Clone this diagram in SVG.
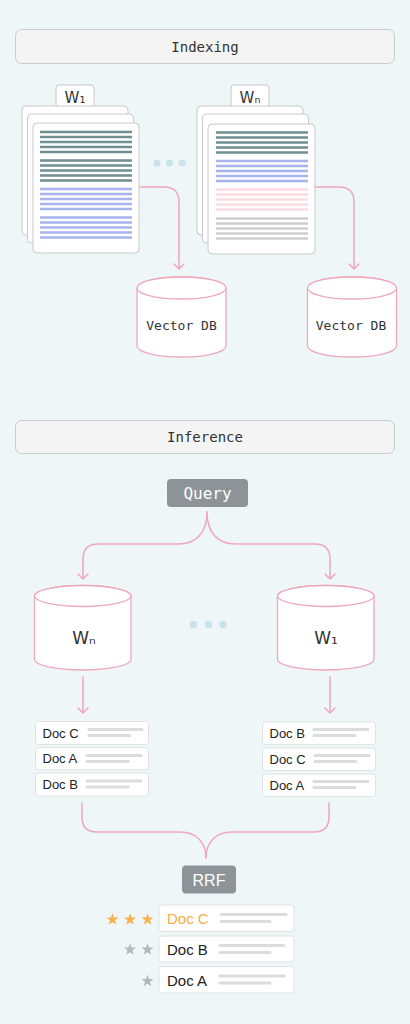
<svg xmlns="http://www.w3.org/2000/svg" width="410" height="1024" viewBox="0 0 410 1024">
<defs>
<style>
.hdr{fill:#f4f4f4;stroke:#c9cccd;stroke-width:1}
.mono{font-family:"DejaVu Sans Mono","Liberation Mono",monospace;fill:#333}
.sans{font-family:"Liberation Sans",Arial,sans-serif;fill:#222}
.wfont{font-family:"DejaVu Sans","Noto Sans",sans-serif;fill:#333}
.page{fill:#fff;stroke:#c6c9ca;stroke-width:1}
.tl{stroke:#6f8f90;stroke-width:2.4}
.bl{stroke:#a9b4ee;stroke-width:2.4}
.pl{stroke:#fbdce4;stroke-width:2.4}
.gl{stroke:#cfcfcf;stroke-width:2.4}
.cyl{fill:#fff;stroke:#eea8bb;stroke-width:1.3}
.con{fill:none;stroke:#eea8bb;stroke-width:1.5;stroke-linecap:round;stroke-linejoin:round}
.dot{fill:#c8e3ea}
.row{fill:#fff;stroke:#e0e2e3;stroke-width:1}
.dl{stroke:#dcdcdc;stroke-width:3;stroke-linecap:round}
.gbox{fill:#8e9397}
</style>
<polygon id="star" points="0,-6 1.47,-2.02 5.71,-1.85 2.38,0.77 3.53,4.85 0,2.5 -3.53,4.85 -2.38,0.77 -5.71,-1.85 -1.47,-2.02"/>
</defs>
<rect width="410" height="1024" fill="#eef6f8"/>

<g id="indexing-header">
<rect class="hdr" x="15.5" y="29.5" width="379" height="34" rx="6"/>
<text class="mono" x="205" y="51.5" font-size="14" text-anchor="middle">Indexing</text>
</g>

<g id="docs-w1">
<rect class="page" x="56" y="85" width="38" height="30" rx="3"/>
<text class="wfont" x="75" y="102.5" font-size="15" text-anchor="middle">W₁</text>
<rect class="page" x="22" y="106" width="106" height="129" rx="4"/>
<rect class="page" x="27.5" y="114" width="106" height="129" rx="4"/>
<rect class="page" x="33" y="123" width="106" height="130" rx="4"/>
<g>
<path class="tl" d="M40,132H132M40,137H132M40,142H132M40,147H132M40,152H132M40,160.5H132M40,165.5H132M40,170.5H132M40,175.5H132M40,180.5H132"/>
<path class="bl" d="M40,189H132M40,194H132M40,199H132M40,204H132M40,209H132M40,217.5H132M40,222.5H132M40,227.5H132M40,232.5H132M40,237.5H132"/>
</g>
</g>

<g id="dots-top">
<circle class="dot" cx="157" cy="163" r="3.5"/>
<circle class="dot" cx="169.5" cy="163" r="3.5"/>
<circle class="dot" cx="182" cy="163" r="3.5"/>
</g>

<g id="docs-wn">
<rect class="page" x="231" y="85" width="38" height="30" rx="3"/>
<text class="wfont" x="250" y="102.5" font-size="15" text-anchor="middle">Wₙ</text>
<rect class="page" x="197" y="106" width="106" height="129" rx="4"/>
<rect class="page" x="202.5" y="114" width="106" height="129" rx="4"/>
<rect class="page" x="208" y="124" width="107" height="130" rx="4"/>
<g>
<path class="tl" d="M216,132.5H308M216,137.5H308M216,142.5H308M216,147.5H308M216,152.5H308"/>
<path class="bl" d="M216,161H308M216,166H308M216,171H308M216,176H308M216,181H308"/>
<path class="pl" d="M216,189.5H308M216,194.5H308M216,199.5H308M216,204.5H308M216,209.5H308"/>
<path class="gl" d="M216,218.5H308M216,223.5H308M216,228.5H308M216,233.5H308M216,238.5H308"/>
</g>
</g>

<g id="vectordb-1">
<path class="cyl" d="M137,288V346A44.5,11 0 0 0 226,346V288A44.5,11 0 0 0 137,288Z"/>
<ellipse class="cyl" cx="181.5" cy="288" rx="44.5" ry="11"/>
<text class="mono" x="181.5" y="329.5" font-size="13" text-anchor="middle">Vector DB</text>
</g>

<g id="vectordb-n">
<path class="cyl" d="M307.5,288V346A44.5,11 0 0 0 396.5,346V288A44.5,11 0 0 0 307.5,288Z"/>
<ellipse class="cyl" cx="352" cy="288" rx="44.5" ry="11"/>
<text class="mono" x="351" y="329.5" font-size="13" text-anchor="middle">Vector DB</text>
</g>

<g id="inference-header">
<rect class="hdr" x="15.5" y="420.5" width="379" height="33" rx="6"/>
<text class="mono" x="205" y="442" font-size="14" text-anchor="middle">Inference</text>
</g>

<g id="query">
<rect class="gbox" x="167" y="479" width="81" height="28" rx="4"/>
<text class="mono" x="207.5" y="499" font-size="16" text-anchor="middle" style="fill:#fff">Query</text>
</g>

<g id="db-wn">
<path class="cyl" d="M34.5,596V659.5A48.25,10.5 0 0 0 131,659.5V596A48.25,10.5 0 0 0 34.5,596Z"/>
<ellipse class="cyl" cx="82.75" cy="596" rx="48.25" ry="10.5"/>
<text class="wfont" x="84" y="644" font-size="17" text-anchor="middle">Wₙ</text>
</g>

<g id="dots-mid">
<circle class="dot" cx="193.5" cy="624.5" r="3.7"/>
<circle class="dot" cx="208.5" cy="624.5" r="3.7"/>
<circle class="dot" cx="223" cy="624.5" r="3.7"/>
</g>

<g id="db-w1">
<path class="cyl" d="M277.5,596V659.5A48.25,10.5 0 0 0 374,659.5V596A48.25,10.5 0 0 0 277.5,596Z"/>
<ellipse class="cyl" cx="325.75" cy="596" rx="48.25" ry="10.5"/>
<text class="wfont" x="326" y="644" font-size="17" text-anchor="middle">W₁</text>
</g>

<g id="list-left">
<rect class="row" x="35.5" y="721.5" width="113" height="23" rx="3"/>
<text class="sans" x="42.5" y="737.5" font-size="13">Doc C</text>
<path class="dl" d="M89,729.5H142M89,735.5H130"/>
<rect class="row" x="35.5" y="747.5" width="113" height="22" rx="3"/>
<text class="sans" x="42.5" y="763" font-size="13">Doc A</text>
<path class="dl" d="M87,755.5H141M87,761.5H128.5"/>
<rect class="row" x="35.5" y="773" width="113" height="23" rx="3"/>
<text class="sans" x="42.5" y="789" font-size="13">Doc B</text>
<path class="dl" d="M87,781H141M87,787H128"/>
</g>

<g id="list-right">
<rect class="row" x="262.5" y="722" width="113" height="22.5" rx="3"/>
<text class="sans" x="269.5" y="738" font-size="13">Doc B</text>
<path class="dl" d="M314,729.5H368M314,735.5H355"/>
<rect class="row" x="262.5" y="748" width="113" height="22.5" rx="3"/>
<text class="sans" x="269.5" y="764" font-size="13">Doc C</text>
<path class="dl" d="M315,755.5H369M315,761.5H356"/>
<rect class="row" x="262.5" y="774" width="113" height="22.5" rx="3"/>
<text class="sans" x="269.5" y="790" font-size="13">Doc A</text>
<path class="dl" d="M314,781.5H368M314,787.5H355"/>
</g>

<g id="rrf">
<rect class="gbox" x="182" y="865.5" width="54" height="28" rx="4"/>
<text class="sans" x="209" y="885.5" font-size="16" text-anchor="middle" style="fill:#fff">RRF</text>
</g>

<g id="final-list">
<rect class="row" x="159" y="905" width="135" height="26.5" rx="3"/>
<text class="sans" x="167" y="923.5" font-size="15" style="fill:#f4ae46">Doc C</text>
<path class="dl" d="M221,914.5H286M221,921.5H270"/>
<rect class="row" x="159" y="936" width="135" height="26" rx="3"/>
<text class="sans" x="167" y="954.5" font-size="15">Doc B</text>
<path class="dl" d="M220,945.5H284M220,952.5H270"/>
<rect class="row" x="159" y="966.5" width="135" height="26.5" rx="3"/>
<text class="sans" x="167" y="985.5" font-size="15">Doc A</text>
<path class="dl" d="M220,976H284M220,983H270"/>
</g>

<g id="stars">
<use href="#star" transform="translate(112.5,919.5) scale(1.05)" fill="#f6b24e"/>
<use href="#star" transform="translate(130,919.5) scale(1.05)" fill="#f6b24e"/>
<use href="#star" transform="translate(147.5,919.5) scale(1.05)" fill="#f6b24e"/>
<use href="#star" transform="translate(130,949.5) scale(1.05)" fill="#b3b8bb"/>
<use href="#star" transform="translate(147.5,949.5) scale(1.05)" fill="#b3b8bb"/>
<use href="#star" transform="translate(147.5,981) scale(1.05)" fill="#b3b8bb"/>
</g>

<g id="connectors">
<path class="con" d="M140,187H164Q179,187 179,202V269M174,264L179,269L184,264"/>
<path class="con" d="M315,187H339Q354,187 354,202V269M349,264L354,269L359,264"/>
<path class="con" d="M207,512C207,532 197,544 178,544H98Q83,544 83,559V579M78,574L83,579L88,574"/>
<path class="con" d="M207,512C207,532 217,544 236,544H315Q330,544 330,559V579M325,574L330,579L335,574"/>
<path class="con" d="M83,677V713M78,708L83,713L88,708"/>
<path class="con" d="M330,677V713M325,708L330,713L335,708"/>
<path class="con" d="M82,803V817Q82,832 97,832H180C196,832 206,842 206,858"/>
<path class="con" d="M329,803V817Q329,832 314,832H232C216,832 206,842 206,858"/>
</g>
</svg>
